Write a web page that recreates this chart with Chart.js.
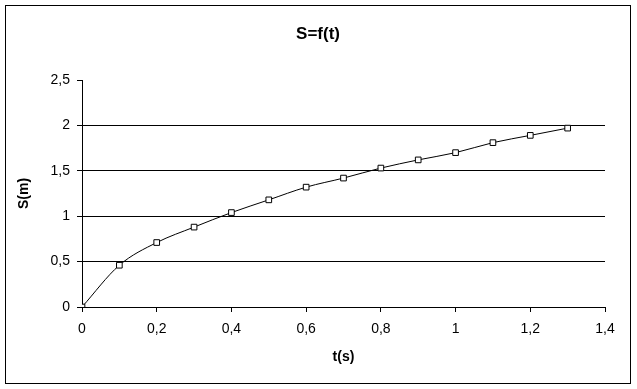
<!DOCTYPE html>
<html>
<head>
<meta charset="utf-8">
<script src="https://cdn.jsdelivr.net/npm/chart.js@4"></script>
<style>
  html, body { margin: 0; padding: 0; background: #fff; }
  canvas { display: block; }
</style>
</head>
<body>
<canvas id="chart" width="637" height="389"></canvas>
<script>
// measured points, t in seconds and S in metres
const timeValues = [0, 0.1, 0.2, 0.3, 0.4, 0.5, 0.6, 0.7, 0.8, 0.9, 1.0, 1.1, 1.2, 1.3];
const distValues = [0, 0.46, 0.71, 0.88, 1.04, 1.18, 1.32, 1.42, 1.53, 1.62, 1.70, 1.81, 1.89, 1.97];
const xTicks = { min: 0, max: 1.4, step: 0.2 };
const yTicks = { min: 0, max: 2.5, step: 0.5 };

const commaNum = v => String(Math.round(v * 10) / 10).replace('.', ',');

// frame round the whole chart + title, drawn by hand like the excel one
const framePlugin = {
  id: 'frame',
  afterDraw(chart) {
    const ctx = chart.ctx;
    ctx.save();
    ctx.strokeStyle = '#000';
    ctx.lineWidth = 1;
    ctx.strokeRect(5.5, 5.5, 625, 378);
    ctx.fillStyle = '#000';
    ctx.font = 'bold 17px "Liberation Sans", Arial, sans-serif';
    ctx.textAlign = 'center';
    ctx.textBaseline = 'middle';
    ctx.fillText('S=f(t)', 318, 34);
    ctx.restore();
  }
};

Chart.defaults.color = '#000';
Chart.defaults.font.family = '"Liberation Sans", Arial, sans-serif';

new Chart(document.getElementById('chart'), {
  type: 'scatter',
  data: {
    datasets: [{
      data: timeValues.map((t, i) => ({ x: t, y: distValues[i] })),
      showLine: true,
      borderColor: '#000',
      borderWidth: 1,
      cubicInterpolationMode: 'monotone',
      pointStyle: 'rect',
      pointRadius: 4,
      pointBackgroundColor: '#fff',
      pointBorderColor: '#000',
      pointBorderWidth: 1
    }]
  },
  options: {
    responsive: false,
    animation: false,
    layout: { padding: { top: 80, left: 0, right: 32, bottom: 0 } },
    plugins: { legend: { display: false }, tooltip: { enabled: false } },
    scales: {
      x: {
        min: xTicks.min, max: xTicks.max,
        ticks: { stepSize: xTicks.step, callback: commaNum, font: { size: 14 }, padding: 9, maxRotation: 0 },
        grid: { color: 'rgba(0,0,0,0)', tickColor: '#000', tickLength: 5, drawOnChartArea: true },
        border: { display: true, color: '#000', width: 1 },
        title: { display: true, text: 't(s)', font: { size: 14, weight: 'bold' }, padding: { top: 0, bottom: 23 } },
        afterFit: s => { s.height = 82; }
      },
      y: {
        min: yTicks.min, max: yTicks.max,
        ticks: { stepSize: yTicks.step, callback: commaNum, font: { size: 14 }, padding: 7 },
        grid: {
          color: c => (c.tick && c.tick.value > 0 && c.tick.value < yTicks.max) ? '#000' : 'rgba(0,0,0,0)',
          tickColor: '#000', tickLength: 5
        },
        border: { display: true, color: '#000', width: 1 },
        title: { display: true, text: 'S(m)', font: { size: 14, weight: 'bold' }, padding: { top: 16, bottom: 0 } },
        afterFit: s => { s.width = 82; }
      }
    }
  },
  plugins: [framePlugin]
});
</script>
</body>
</html>
